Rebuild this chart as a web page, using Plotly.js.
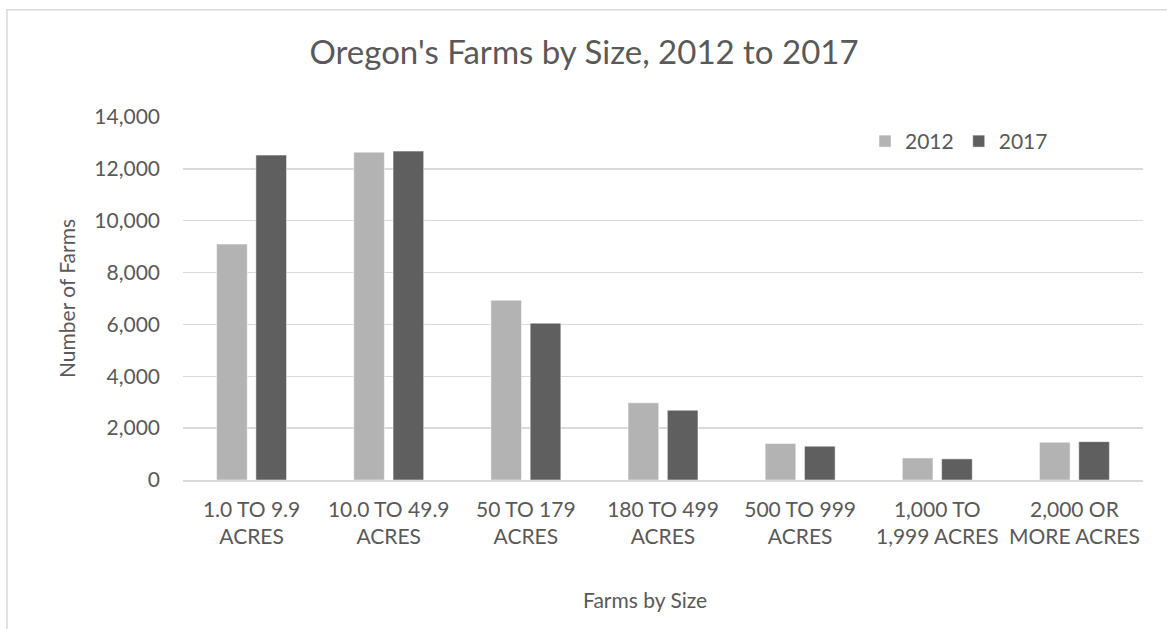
<!DOCTYPE html>
<html>
<head>
<meta charset="utf-8">
<script src="https://cdn.plot.ly/plotly-3.0.1.min.js"></script>
<style>
html,body{margin:0;padding:0;background:#fff;}
#chart{width:1167px;height:629px;}
</style>
</head>
<body>
<div id="chart"></div>
<script>
const categories = [
  "1.0 TO 9.9<br>ACRES",
  "10.0 TO 49.9<br>ACRES",
  "50 TO 179<br>ACRES",
  "180 TO 499<br>ACRES",
  "500 TO 999<br>ACRES",
  "1,000 TO<br>1,999 ACRES",
  "2,000 OR<br>MORE ACRES"
];
const farms2012 = [9100, 12645, 6935, 2975, 1410, 850, 1455];
const farms2017 = [12530, 12685, 6050, 2690, 1305, 815, 1480];
const yTickVals = [0, 2000, 4000, 6000, 8000, 10000, 12000, 14000];
const yTickText = ["0", "2,000", "4,000", "6,000", "8,000", "10,000", "12,000", "14,000"];

const textColor = "#595959";
const fontFam = "Lato, 'Open Sans', sans-serif";

const traces = [
  {
    type: "bar", name: "2012", x: categories, y: farms2012,
    marker: {color: "#b3b3b3", line: {color: "#ffffff", width: 0.5}},
    hoverinfo: "skip"
  },
  {
    type: "bar", name: "2017", x: categories, y: farms2017,
    marker: {color: "#5f5f5f", line: {color: "#ffffff", width: 0.5}},
    hoverinfo: "skip"
  }
];

const L = 183, R = 24, T = 116.5, B = 149;
const pw = 1167 - L - R, ph = 629 - T - B;
function px(x){ return (x - L) / pw; }
function py(y){ return (629 - B - y) / ph; }

const layout = {
  width: 1167, height: 629,
  margin: {l: L, r: R, t: T, b: B, pad: 0},
  paper_bgcolor: "#ffffff", plot_bgcolor: "#ffffff",
  font: {family: fontFam, color: textColor, size: 21},
  title: {
    text: "Oregon's Farms by Size, 2012 to 2017",
    font: {family: fontFam, size: 33, color: textColor},
    x: 584/1167, xref: "container", xanchor: "center",
    y: 1 - 52/629, yref: "container", yanchor: "middle"
  },
  barmode: "group",
  bargap: 0.427,
  bargroupgap: 0.22,
  showlegend: true,
  legend: {
    orientation: "h",
    x: px(959), xanchor: "center",
    y: py(141), yanchor: "middle",
    font: {family: fontFam, size: 21, color: textColor},
    bgcolor: "rgba(0,0,0,0)"
  },
  xaxis: {
    type: "category",
    showgrid: false, zeroline: false,
    showline: true, linecolor: "#d9d9d9", linewidth: 1.5,
    ticks: "", ticklabelstandoff: 10,
    tickfont: {family: fontFam, size: 21, color: textColor},
    fixedrange: true
  },
  yaxis: {
    range: [0, 14000],
    tickvals: yTickVals, ticktext: yTickText,
    showgrid: true, gridcolor: "#d9d9d9", gridwidth: 1.5,
    zeroline: false, showline: false,
    ticks: "", ticklabelstandoff: 22,
    tickfont: {family: fontFam, size: 21, color: textColor},
    title: {text: "Number of Farms", font: {family: fontFam, size: 21, color: textColor}, standoff: 12},
    fixedrange: true
  },
  annotations: [
    {
      text: "Farms by Size", showarrow: false,
      xref: "paper", yref: "paper",
      x: px(645), y: py(600), xanchor: "center", yanchor: "middle",
      font: {family: fontFam, size: 21, color: textColor}
    }
  ],
  shapes: [
    {
      type: "rect", xref: "paper", yref: "paper",
      x0: px(7), x1: px(1190), y0: py(9), y1: py(650),
      line: {color: "#d9d9d9", width: 1.5}, fillcolor: "rgba(0,0,0,0)",
      layer: "below"
    }
  ]
};

Plotly.newPlot("chart", traces, layout, {displayModeBar: false, staticPlot: true});
</script>
</body>
</html>
